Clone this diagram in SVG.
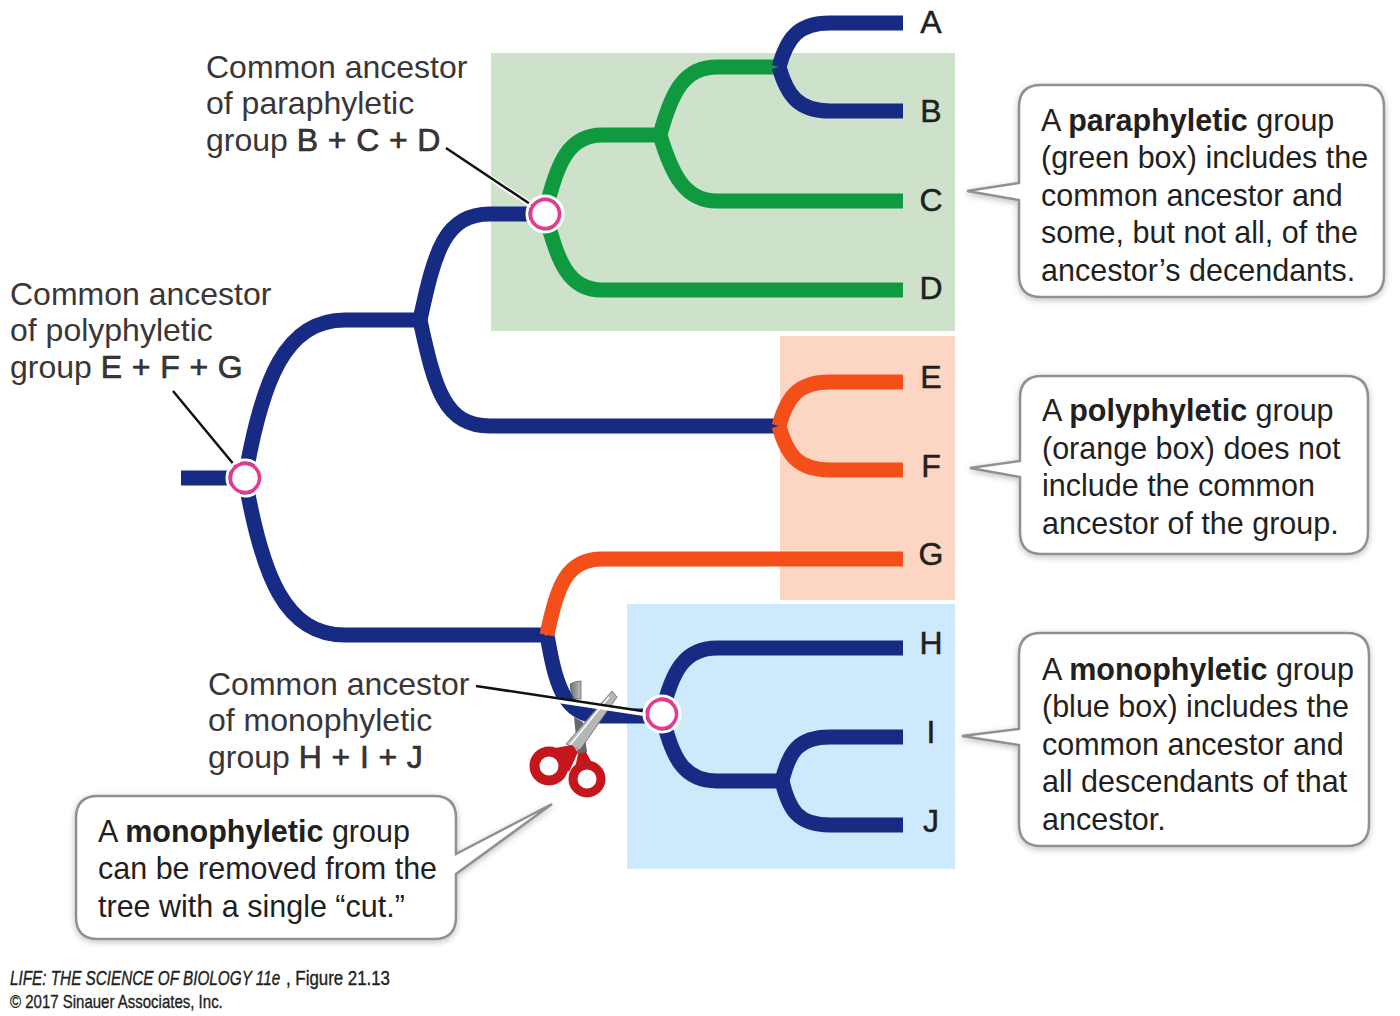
<svg xmlns="http://www.w3.org/2000/svg" width="1400" height="1016" viewBox="0 0 1400 1016">
<defs>
<style>
text{font-family:"Liberation Sans",Arial,sans-serif;fill:#231f20}
.t{font-size:30.500px}
.l{font-size:32px;fill:#3a3637}
.k{font-size:32px;text-anchor:middle;stroke:#231f20;stroke-width:.5}
.b{font-weight:bold}
.m{stroke:#231f20;stroke-width:.6;letter-spacing:.4px}
.bl,.gr,.or{fill:none;stroke-width:15}
.bl{stroke:#172b85}.gr{stroke:#0f9a40}.or{stroke:#f44e19}
.call{fill:#fff;stroke:#8e9093;stroke-width:2.5;filter:url(#sh)}
.halo{stroke:#fff;stroke-width:5.500;fill:none}
.ptr{stroke:#111;stroke-width:2.500;fill:none}
.ring{fill:#fff;stroke:#e8388f;stroke-width:3.500}
.ringh{fill:none;stroke:#fff;stroke-width:3}
.hand{fill:none;stroke:#c5161d}
.foot{font-size:21px;stroke:#231f20;stroke-width:.4}
.foot2{font-size:18px;stroke:#231f20;stroke-width:.35}
</style>
<filter id="sh" x="-10%" y="-10%" width="120%" height="125%"><feDropShadow dx="0" dy="2" stdDeviation="3" flood-color="#000" flood-opacity=".25"/></filter>
<linearGradient id="blade" x1="0" x2="1" y1="0" y2="0"><stop offset="0" stop-color="#6f7072"/><stop offset="1" stop-color="#bcbdbf"/></linearGradient>
</defs>
<rect width="1400" height="1016" fill="#fff"/>
<g id="boxes">
<rect x="491" y="53" width="464" height="278" fill="#cde1cb"/>
<rect x="780" y="336" width="175" height="264" fill="#fdd6c3"/>
<rect x="627" y="604" width="328" height="265" fill="#cde9fb"/>
</g>
<g id="connectors">
<path class="bl" d="M181,478H240"/>
<path class="bl" d="M245,478C262,380 285,320 345,320H420"/>
<path class="bl" d="M245,478C262,576 285,635 345,635H545"/>
<path class="bl" d="M420,320C435,250 445,214 490,214H530"/>
<path class="bl" d="M420,320C435,390 445,426 490,426H775"/>
<path class="gr" d="M545,214C557,160 570,135 602,135H660"/>
<path class="gr" d="M545,214C557,255 565,290 602,290H903"/>
<path class="gr" d="M660,135C672,90 685,67 717,67H780"/>
<path class="gr" d="M660,135C672,175 685,201 717,201H903"/>
<path class="bl" d="M779,67C787,38 798,23 830,23H903"/>
<path class="bl" d="M779,67C787,95 798,111 830,111H903"/>
<path class="bl" d="M775,426H782"/>
<path class="or" d="M779,426C787,397 798,382 830,382H903"/>
<path class="or" d="M779,426C787,455 798,470 830,470H903"/>
<path class="bl" d="M547,635C555,680 562,716 600,716H648"/>
<path class="or" d="M547,635C557,585 567,559 602,559H903"/>
<path class="bl" d="M662,714C672,670 685,648 717,648H903"/>
<path class="bl" d="M662,714C672,760 685,781 717,781H782"/>
<path class="bl" d="M782,781C789,752 798,737 830,737H903"/>
<path class="bl" d="M782,781C789,810 798,825 830,825H903"/>
</g>
<g id="scissors">
<path d="M570,684Q575,681 581,681L581,699L574,699Q570,692 570,684Z" fill="url(#blade)" stroke="#666" stroke-width=".8"/>
<path d="M574,717L583,722L587,752L578,756Z" fill="#66676a"/>
<path d="M612,691L617,697L580,750L566,744Z" fill="#b5b6b8" stroke="#666" stroke-width=".8"/>
<path d="M609,697L570,745" stroke="#fff" stroke-width="1.500" fill="none"/>
<path d="M555,748L572,745L578,752L569,772Z" fill="#c5161d"/>
<path d="M578,754L586,752L592,763L574,773Z" fill="#c5161d"/>
<circle class="hand" cx="549" cy="766" r="14.500" stroke-width="10"/>
<circle class="hand" cx="587" cy="779" r="14" stroke-width="9"/>
</g>
<g id="pointers">
<path class="halo" d="M476,688L662,716M446,149L545,214M173,391L245,478"/>
<path class="ptr" d="M476,686L662,714M446,148L545,214M173,391L245,478"/>
</g>
<g id="anc-para"><circle class="ringh" cx="545" cy="214" r="18"/><circle class="ring" cx="545" cy="214" r="14.500"/></g>
<g id="anc-poly"><circle class="ringh" cx="245" cy="478" r="18"/><circle class="ring" cx="245" cy="478" r="14.500"/></g>
<g id="anc-mono"><circle class="ringh" cx="662" cy="714" r="18"/><circle class="ring" cx="662" cy="714" r="14.500"/></g>
<g id="leaves">
<text class="k" x="931" y="33">A</text>
<text class="k" x="931" y="122">B</text>
<text class="k" x="931" y="211">C</text>
<text class="k" x="931" y="299">D</text>
<text class="k" x="931" y="388">E</text>
<text class="k" x="931" y="477">F</text>
<text class="k" x="931" y="565">G</text>
<text class="k" x="931" y="654">H</text>
<text class="k" x="931" y="743">I</text>
<text class="k" x="931" y="832">J</text>
</g>
<g id="label-para">
<text class="l" x="206" y="78">Common ancestor</text>
<text class="l" x="206" y="114">of paraphyletic</text>
<text class="l" x="206" y="151">group <tspan class="m">B + C + D</tspan></text>
</g>
<g id="label-poly">
<text class="l" x="10" y="305">Common ancestor</text>
<text class="l" x="10" y="341">of polyphyletic</text>
<text class="l" x="10" y="378">group <tspan class="m">E + F + G</tspan></text>
</g>
<g id="label-mono">
<text class="l" x="208" y="695">Common ancestor</text>
<text class="l" x="208" y="731">of monophyletic</text>
<text class="l" x="208" y="768">group <tspan class="m">H + I + J</tspan></text>
</g>
<g id="callout-para">
<path class="call" d="M1041,85H1362Q1384,85 1384,107V275Q1384,297 1362,297H1041Q1019,297 1019,275V200L967,191L1019,183V107Q1019,85 1041,85Z"/>
<text class="t" x="1041" y="131">A <tspan class="b">paraphyletic</tspan> group</text>
<text class="t" x="1041" y="168">(green box) includes the</text>
<text class="t" x="1041" y="206">common ancestor and</text>
<text class="t" x="1041" y="243">some, but not all, of the</text>
<text class="t" x="1041" y="281">ancestor’s decendants.</text>
</g>
<g id="callout-poly">
<path class="call" d="M1042,376H1346Q1368,376 1368,398V532Q1368,554 1346,554H1042Q1020,554 1020,532V477L970,468L1020,461V398Q1020,376 1042,376Z"/>
<text class="t" x="1042" y="421">A <tspan class="b">polyphyletic</tspan> group</text>
<text class="t" x="1042" y="459">(orange box) does not</text>
<text class="t" x="1042" y="496">include the common</text>
<text class="t" x="1042" y="534">ancestor of the group.</text>
</g>
<g id="callout-mono">
<path class="call" d="M1041,633H1347Q1369,633 1369,655V824Q1369,846 1347,846H1041Q1019,846 1019,824V745L962,736L1019,729V655Q1019,633 1041,633Z"/>
<text class="t" x="1042" y="680">A <tspan class="b">monophyletic</tspan> group</text>
<text class="t" x="1042" y="717">(blue box) includes the</text>
<text class="t" x="1042" y="755">common ancestor and</text>
<text class="t" x="1042" y="792">all descendants of that</text>
<text class="t" x="1042" y="830">ancestor.</text>
</g>
<g id="callout-cut">
<path class="call" d="M98,796H434Q456,796 456,818V854L552,804L456,874V917Q456,939 434,939H98Q76,939 76,917V818Q76,796 98,796Z"/>
<text class="t" x="98" y="842">A <tspan class="b">monophyletic</tspan> group</text>
<text class="t" x="98" y="879">can be removed from the</text>
<text class="t" x="98" y="917">tree with a single “cut.”</text>
</g>
<g id="credit">
<text class="foot" transform="translate(10,985) scale(.7,1)" font-style="italic" textLength="386" lengthAdjust="spacingAndGlyphs">LIFE: THE SCIENCE OF BIOLOGY 11e</text>
<text class="foot" transform="translate(286,985) scale(.8,1)" textLength="130" lengthAdjust="spacingAndGlyphs">, Figure 21.13</text>
<text class="foot2" transform="translate(10,1008) scale(.8,1)" textLength="266" lengthAdjust="spacingAndGlyphs">© 2017 Sinauer Associates, Inc.</text>
</g>
</svg>
